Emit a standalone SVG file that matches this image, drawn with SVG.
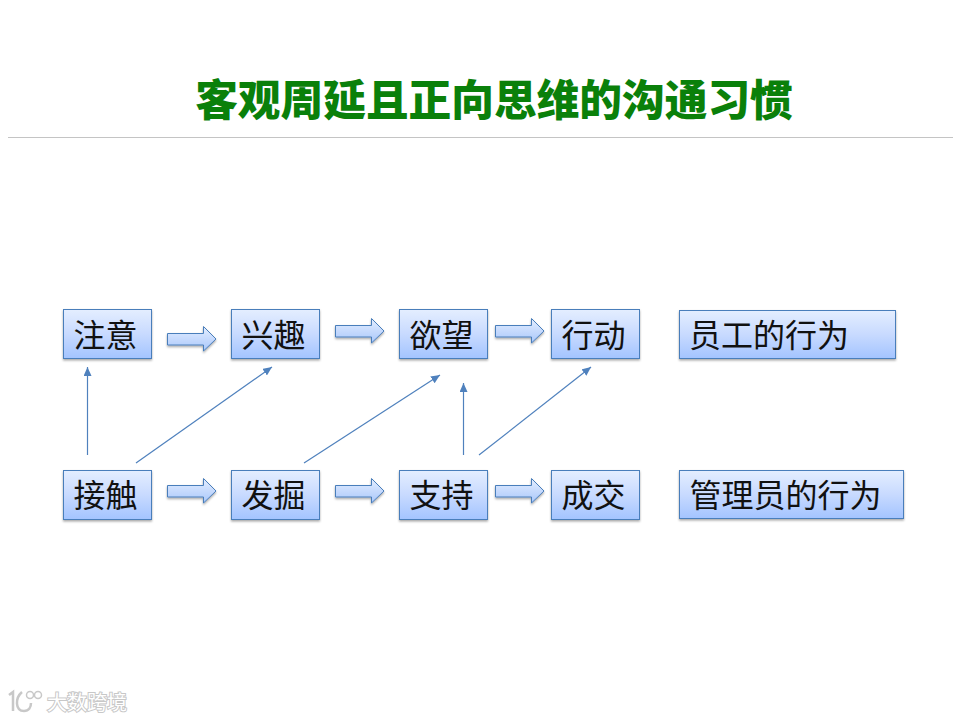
<svg xmlns="http://www.w3.org/2000/svg" width="960" height="720" viewBox="0 0 960 720">
<style>
.n{fill:url(#g);stroke:#4a7ebb;stroke-width:1;filter:url(#s)}
.t{font-family:"Noto Sans CJK SC","Liberation Sans",sans-serif;font-size:32px;fill:#111}
.a{fill:url(#ag);stroke:#4a7ebb;stroke-width:1;filter:url(#s)}
.l{fill:none;stroke:#4f81bd;stroke-width:1.200;marker-end:url(#m)}
.w{font-family:"Noto Sans CJK SC",sans-serif;font-size:20px;fill:#fff;stroke:#c8c8c8;stroke-width:2;paint-order:stroke}
</style>
<defs>
<linearGradient id="g" x1="0" y1="0" x2="0" y2="1"><stop offset="0" stop-color="#e4eeff"/><stop offset="0.5" stop-color="#c8daff"/><stop offset="1" stop-color="#a3c4ff"/></linearGradient>
<linearGradient id="ag" x1="0" y1="0" x2="0" y2="1"><stop offset="0" stop-color="#e4eeff"/><stop offset="1" stop-color="#a9c7fb"/></linearGradient>
<filter id="s" x="-10%" y="-10%" width="120%" height="130%"><feDropShadow dx="0" dy="1.500" stdDeviation="1.200" flood-color="#000" flood-opacity="0.350"/></filter>
<marker id="m" markerUnits="userSpaceOnUse" markerWidth="10" markerHeight="8" refX="9" refY="4" orient="auto"><path d="M0 0L9 4L0 8Z" fill="#4f81bd"/></marker>
<path id="ar" d="M0 7H36V0L48.500 12.500L36 24.500V18.500H0Z"/>
</defs>
<rect width="960" height="720" fill="#fff"/>
<text x="494" y="116" text-anchor="middle" style="font-family:'Noto Sans CJK SC',sans-serif;font-size:42.700px;font-weight:900;fill:#0a800a">客观周延且正向思维的沟通习惯</text>
<line x1="8" y1="137.500" x2="953" y2="137.500" stroke="#c4c4c4"/>
<g id="connectors">
<use href="#ar" class="a" x="167.500" y="326.500"/>
<use href="#ar" class="a" x="335.500" y="318.500"/>
<use href="#ar" class="a" x="495.500" y="318.500"/>
<use href="#ar" class="a" x="167.500" y="478.500"/>
<use href="#ar" class="a" x="335.500" y="478.500"/>
<use href="#ar" class="a" x="495.500" y="478.500"/>
<path class="l" d="M87.500 455V367"/>
<path class="l" d="M136 463L272 367"/>
<path class="l" d="M304 463L440 375"/>
<path class="l" d="M463.500 455V383"/>
<path class="l" d="M479 455L591 367"/>
</g>
<g id="n1"><rect class="n" x="63.500" y="309.500" width="88" height="49"/><text class="t" x="73.500" y="347">注意</text></g>
<g id="n2"><rect class="n" x="231.500" y="309.500" width="88" height="49"/><text class="t" x="241.500" y="347">兴趣</text></g>
<g id="n3"><rect class="n" x="399.500" y="309.500" width="88" height="49"/><text class="t" x="409.500" y="347">欲望</text></g>
<g id="n4"><rect class="n" x="551.500" y="309.500" width="88" height="49"/><text class="t" x="561.500" y="347">行动</text></g>
<g id="n5"><rect class="n" x="679.500" y="310.500" width="216" height="48"/><text class="t" x="689" y="347">员工的行为</text></g>
<g id="n6"><rect class="n" x="63.500" y="470.500" width="88" height="49"/><text class="t" x="73.500" y="507">接触</text></g>
<g id="n7"><rect class="n" x="231.500" y="470.500" width="88" height="49"/><text class="t" x="241.500" y="507">发掘</text></g>
<g id="n8"><rect class="n" x="399.500" y="470.500" width="88" height="49"/><text class="t" x="409.500" y="507">支持</text></g>
<g id="n9"><rect class="n" x="551.500" y="470.500" width="88" height="49"/><text class="t" x="561.500" y="507">成交</text></g>
<g id="n10"><rect class="n" x="679.500" y="470.500" width="224" height="48"/><text class="t" x="689.500" y="507">管理员的行为</text></g>
<g id="watermark">
<path d="M9 695L13 692V711M22 692C15 698 15 711 24 711C29 711 31 707 31 703" fill="none" stroke="#c8c8c8" stroke-width="2.500"/>
<circle cx="30" cy="695" r="3.500" fill="#fff" stroke="#c8c8c8" stroke-width="1.500"/>
<circle cx="38" cy="695" r="3.500" fill="#fff" stroke="#c8c8c8" stroke-width="1.500"/>
<text class="w" x="47" y="710">大数跨境</text>
</g>
</svg>
